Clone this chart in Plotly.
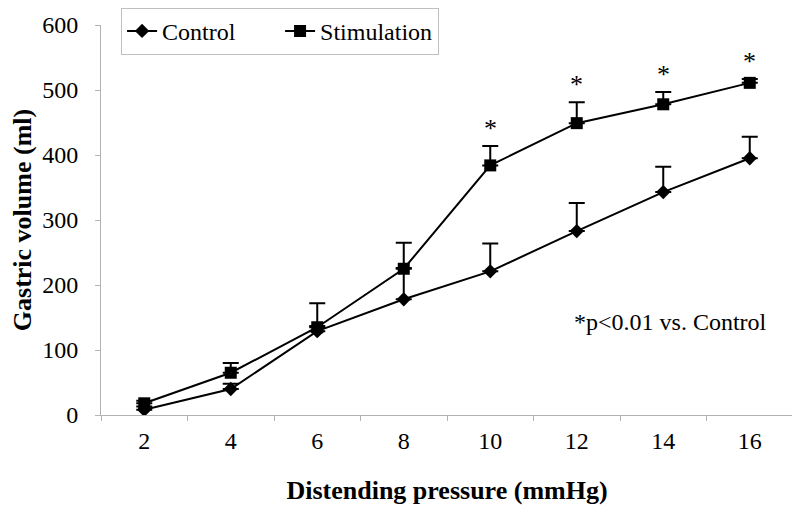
import plotly.graph_objects as go

# Distending pressure levels (mmHg)
pressure = ['2', '4', '6', '8', '10', '12', '14', '16']

# Gastric volume (ml), mean and SE
control = [8, 40, 129, 178, 221, 283, 343, 395]
control_err = [5, 8, 8, 48, 43, 43, 39, 33]
stimulation = [18, 65, 135, 225, 384, 449, 478, 511]
stimulation_err = [4, 15, 37, 40, 30, 32, 19, 6]

# points significantly different from control
signif = ['10', '12', '14', '16']

FONT = 'Liberation Serif'
AXIS_GRAY = '#b3b3b3'

fig = go.Figure()

fig.add_trace(go.Scatter(
    x=pressure, y=control, name='Control', mode='lines+markers',
    line=dict(color='black', width=2),
    marker=dict(symbol='diamond', size=11, color='black'),
    error_y=dict(type='data', array=control_err, arrayminus=[0] * len(control),
                 color='black', thickness=2, width=8)))

fig.add_trace(go.Scatter(
    x=pressure, y=stimulation, name='Stimulation', mode='lines+markers',
    line=dict(color='black', width=2),
    marker=dict(symbol='square', size=12, color='black'),
    error_y=dict(type='data', array=stimulation_err, arrayminus=[0] * len(stimulation),
                 color='black', thickness=2, width=8)))

# asterisks above the stimulation error bars (x given as category index)
for p in signif:
    i = pressure.index(p)
    fig.add_annotation(x=i, y=stimulation[i] + stimulation_err[i], text='*',
                       showarrow=False, yanchor='bottom', yshift=1,
                       font=dict(family=FONT, size=26, color='black'))

fig.add_annotation(xref='paper', yref='paper', x=0.965, y=0.238,
                   xanchor='right', yanchor='middle', showarrow=False,
                   text='*p<0.01 vs. Control',
                   font=dict(family=FONT, size=24, color='black'))

# page body adds an 8px offset, so margins are shifted to compensate
fig.update_layout(
    width=800, height=516,
    margin=dict(l=93, r=15, t=17, b=109, autoexpand=False),
    paper_bgcolor='white', plot_bgcolor='white',
    font=dict(family=FONT, size=24, color='black'),
    showlegend=True,
    legend=dict(orientation='h', x=0.029, y=1.044, xanchor='left', yanchor='top',
                entrywidth=113, bordercolor='#bfbfbf', borderwidth=1, bgcolor='white',
                font=dict(family=FONT, size=24, color='black')),
    xaxis=dict(type='category', categoryorder='array', categoryarray=pressure,
               range=[-0.5, len(pressure) - 0.5],
               tickson='boundaries', ticks='outside', ticklen=5,
               tickcolor=AXIS_GRAY, showline=True, linecolor=AXIS_GRAY, linewidth=1,
               showgrid=False, zeroline=False, ticklabelstandoff=4,
               tickfont=dict(family=FONT, size=24, color='black'),
               title=dict(text='<b>Distending pressure (mmHg)</b>', standoff=28,
                          font=dict(family=FONT, size=26, color='black'))),
    yaxis=dict(range=[0, 600], dtick=100, ticks='outside', ticklen=5,
               tickcolor=AXIS_GRAY, showline=True, linecolor=AXIS_GRAY, linewidth=1,
               showgrid=False, zeroline=False, ticklabelstandoff=12,
               tickfont=dict(family=FONT, size=24, color='black'),
               title=dict(text='<b>Gastric volume (ml)</b>', standoff=18,
                          font=dict(family=FONT, size=26, color='black'))),
)

fig.write_html('out.html')
